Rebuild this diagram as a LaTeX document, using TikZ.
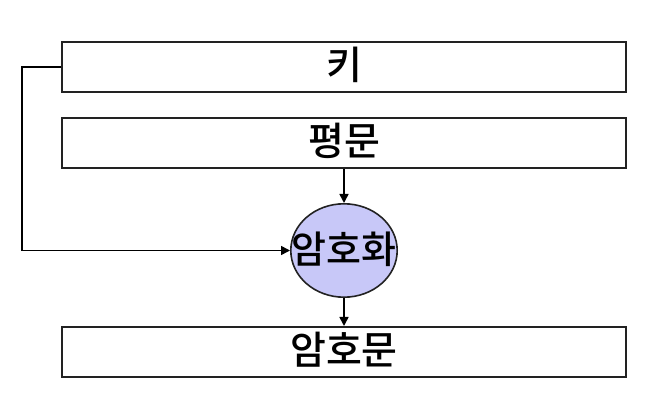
\documentclass[tikz,border=0pt]{standalone}
\usepackage{fontspec}
\usepackage{tikz}
\usetikzlibrary{arrows.meta,positioning,shapes.geometric}
\newfontfamily\kfont{Noto Sans CJK KR}[UprightFont=* Medium]
\definecolor{Lavender}{HTML}{C8C8F8}
\definecolor{Edge}{HTML}{222222}

\begin{document}
\begin{tikzpicture}[
  node distance=12pt,
  bar/.style={draw=Edge,line width=1pt,minimum width=282pt,minimum height=25pt,inner sep=0pt,text height=15pt,text depth=2pt,font=\kfont\fontsize{19.5}{21}\selectfont},
  proc/.style={ellipse,draw=Edge,line width=0.8pt,fill=Lavender,minimum width=53.2pt,minimum height=46.7pt,inner sep=0pt,text height=15pt,text depth=2pt,font=\kfont\fontsize{19}{21}\selectfont},
  flow/.style={-{Triangle[length=4.5pt,width=4.5pt]},line width=0.8pt,draw=black}
]
\useasboundingbox (0,0) rectangle (329.5pt,-202.5pt);
\node[bar] (key) at (172pt,-33.5pt) {키};
\node[bar,below=of key] (plain) {평문};
\node[proc,below=17pt of plain] (enc) {\makebox[0pt]{암호화}};
\node[bar,below=14pt of enc] (cipher) {암호문};
\coordinate (bend) at (11pt,-33.5pt);
\draw[flow] (plain) -- (enc);
\draw[flow] (enc) -- (cipher);
\draw[flow] (key.west) -- (bend) |- (enc.west);
\end{tikzpicture}
\end{document}
